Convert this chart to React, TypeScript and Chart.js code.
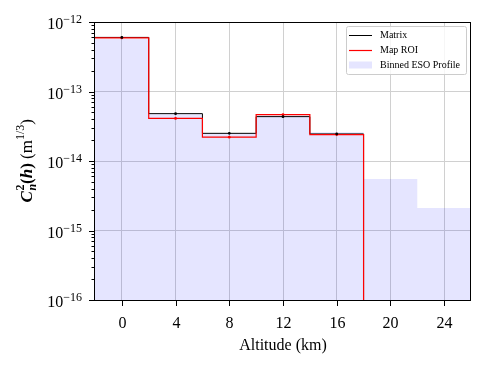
import { useEffect, useRef } from 'react';
import { Chart, registerables } from 'chart.js';

Chart.register(...registerables);

// Bin centres (km) and per-bin C_n^2 values (m^1/3)
const altitudes = [0, 4, 8, 12, 16, 20, 24];
const binHalfWidth = 2;
const matrixValues = [6.0e-13, 4.8e-14, 2.5e-14, 4.35e-14, 2.45e-14];
const mapRoiValues = [5.9e-13, 4.1e-14, 2.2e-14, 4.65e-14, 2.4e-14];
const esoValues = [5.7e-13, 4.7e-14, 2.5e-14, 4.5e-14, 2.6e-14, 5.5e-15, 2.1e-15];
// value the reconstructed profiles fall to above their last bin
const floorValue = 1e-17;

const xTicks = [0, 4, 8, 12, 16, 20, 24];
const yDecades = [-16, -15, -14, -13, -12];
const xMin = -2;
const xMax = 26;

const SERIF = '"Liberation Serif", "Times New Roman", serif';
const ESO_FILL = 'rgba(0, 0, 255, 0.1)';

function stepPoints(values: number[], tail?: number) {
  const pts = values.map((v, i) => ({ x: altitudes[i] - binHalfWidth, y: v }));
  const lastEdge = altitudes[values.length - 1] + binHalfWidth;
  pts.push({ x: lastEdge, y: tail ?? values[values.length - 1] });
  return pts;
}

function centrePoints(values: number[]) {
  return values.map((v, i) => ({ x: altitudes[i], y: v }));
}

type Run = { text: string; font: string; dy: number };

function drawYTitle(ctx: CanvasRenderingContext2D, baselineX: number, cy: number) {
  const big = `17px ${SERIF}`;
  const bigB = `bold 17px ${SERIF}`;
  const bigBI = `italic bold 17px ${SERIF}`;
  const small = `12px ${SERIF}`;
  const smallB = `bold 12px ${SERIF}`;
  const smallBI = `italic bold 12px ${SERIF}`;
  const segments: Run[][] = [
    [{ text: 'C', font: bigBI, dy: 0 }],
    [
      { text: '2', font: smallB, dy: -7.5 },
      { text: 'n', font: smallBI, dy: 4 },
    ],
    [{ text: '(', font: bigB, dy: 0 }],
    [{ text: 'h', font: bigBI, dy: 0 }],
    [{ text: ')', font: bigB, dy: 0 }],
    [{ text: ' (m', font: big, dy: 0 }],
    [{ text: '1/3', font: small, dy: -7.5 }],
    [{ text: ')', font: big, dy: 0 }],
  ];
  ctx.save();
  ctx.translate(baselineX, cy);
  ctx.rotate(-Math.PI / 2);
  ctx.fillStyle = '#000';
  ctx.textBaseline = 'alphabetic';
  ctx.textAlign = 'left';
  const widths = segments.map((seg) =>
    Math.max(
      ...seg.map((r) => {
        ctx.font = r.font;
        return ctx.measureText(r.text).width;
      })
    )
  );
  const total = widths.reduce((a, b) => a + b, 0);
  let x = -total / 2;
  segments.forEach((seg, i) => {
    seg.forEach((r) => {
      ctx.font = r.font;
      ctx.fillText(r.text, x, r.dy);
    });
    x += widths[i] + (i === 0 ? 0.5 : 0);
  });
  ctx.restore();
}

const decorPlugin = {
  id: 'decor',
  afterDraw(chart: any) {
    const { ctx, chartArea } = chart;
    const xs = chart.scales.x;
    const ys = chart.scales.y;
    const { left, right, top, bottom } = chartArea;
    ctx.save();

    // frame
    ctx.strokeStyle = '#000';
    ctx.lineWidth = 1;
    ctx.strokeRect(Math.round(left) - 0.5, Math.round(top) + 0.5, Math.round(right - left), Math.round(bottom - top));

    // x ticks and labels
    ctx.fillStyle = '#000';
    ctx.font = `16px ${SERIF}`;
    ctx.textAlign = 'center';
    ctx.textBaseline = 'alphabetic';
    xTicks.forEach((v) => {
      const px = Math.round(xs.getPixelForValue(v)) + 0.5;
      ctx.beginPath();
      ctx.moveTo(px, bottom);
      ctx.lineTo(px, bottom + 6);
      ctx.stroke();
      ctx.fillText(String(v), px, bottom + 27.5);
    });

    // y ticks: majors at decades, minors at 2..9
    yDecades.forEach((d) => {
      const py = Math.round(ys.getPixelForValue(Math.pow(10, d))) + 0.5;
      ctx.beginPath();
      ctx.moveTo(left - 6, py);
      ctx.lineTo(left, py);
      ctx.stroke();
      if (d < yDecades[yDecades.length - 1]) {
        for (let k = 2; k <= 9; k++) {
          const pm = Math.round(ys.getPixelForValue(k * Math.pow(10, d))) + 0.5;
          ctx.beginPath();
          ctx.moveTo(left - 3.5, pm);
          ctx.lineTo(left, pm);
          ctx.stroke();
        }
      }
      // label 10^d
      const exp = '\u2212' + String(Math.abs(d));
      ctx.textAlign = 'left';
      ctx.font = `12px ${SERIF}`;
      const expW = ctx.measureText(exp).width;
      ctx.font = `16px ${SERIF}`;
      const tenW = ctx.measureText('10').width;
      const rightEdge = left - 13;
      ctx.fillText('10', rightEdge - expW - tenW, py + 6);
      ctx.font = `12px ${SERIF}`;
      ctx.fillText(exp, rightEdge - expW, py + 0.5);
    });

    // axis titles
    ctx.font = `16px ${SERIF}`;
    ctx.textAlign = 'center';
    ctx.fillText('Altitude (km)', (left + right) / 2, bottom + 50);
    drawYTitle(ctx, 31.5, (top + bottom) / 2);

    // legend
    const bx = 346.5;
    const by = 26.5;
    const bw = 120;
    const bh = 48;
    ctx.beginPath();
    ctx.roundRect(bx, by, bw, bh, 2);
    ctx.fillStyle = 'rgba(255,255,255,0.8)';
    ctx.fill();
    ctx.strokeStyle = '#cccccc';
    ctx.lineWidth = 1;
    ctx.stroke();

    const rows = [
      { label: 'Matrix', kind: 'line', color: '#000000', width: 1 },
      { label: 'Map ROI', kind: 'line', color: '#ff0000', width: 1.2 },
      { label: 'Binned ESO Profile', kind: 'patch', color: ESO_FILL, width: 0 },
    ];
    ctx.font = `10px ${SERIF}`;
    ctx.textAlign = 'left';
    ctx.textBaseline = 'middle';
    rows.forEach((r, i) => {
      const cy = 35 + i * 15;
      if (r.kind === 'line') {
        ctx.strokeStyle = r.color;
        ctx.lineWidth = r.width;
        ctx.beginPath();
        ctx.moveTo(349, cy + 0.5);
        ctx.lineTo(372, cy + 0.5);
        ctx.stroke();
      } else {
        ctx.fillStyle = r.color;
        ctx.fillRect(349, cy - 3.5, 23, 7);
      }
      ctx.fillStyle = '#000';
      ctx.fillText(r.label, 380, cy + 0.5);
    });

    ctx.restore();
  },
};

export default function App() {
  const ref = useRef<HTMLCanvasElement | null>(null);

  useEffect(() => {
    if (!ref.current) return;
    const chart = new Chart(ref.current, {
      type: 'line',
      data: {
        datasets: [
          {
            label: 'Matrix points',
            data: centrePoints(matrixValues),
            showLine: false,
            pointRadius: 1.4,
            pointBackgroundColor: '#000',
            pointBorderWidth: 0,
            order: 0,
          },
          {
            label: 'Map ROI points',
            data: centrePoints(mapRoiValues),
            showLine: false,
            pointRadius: 1.4,
            pointBackgroundColor: '#ff0000',
            pointBorderWidth: 0,
            order: 1,
          },
          {
            label: 'Map ROI',
            data: stepPoints(mapRoiValues, floorValue),
            stepped: 'before',
            borderColor: '#ff0000',
            borderWidth: 1.2,
            pointRadius: 0,
            fill: false,
            order: 2,
          },
          {
            label: 'Matrix',
            data: stepPoints(matrixValues, floorValue),
            stepped: 'before',
            borderColor: '#000000',
            borderWidth: 1,
            pointRadius: 0,
            fill: false,
            order: 3,
          },
          {
            label: 'Binned ESO Profile',
            data: stepPoints(esoValues),
            stepped: 'before',
            borderWidth: 0,
            borderColor: 'rgba(0,0,0,0)',
            backgroundColor: ESO_FILL,
            pointRadius: 0,
            fill: 'start',
            order: 4,
          },
        ],
      },
      options: {
        animation: false,
        responsive: false,
        devicePixelRatio: 1,
        layout: { padding: { top: 22, right: 23, bottom: 0, left: 0 } },
        plugins: {
          legend: { display: false },
          tooltip: { enabled: false },
        },
        scales: {
          x: {
            type: 'linear',
            min: xMin,
            max: xMax,
            afterBuildTicks: (scale: any) => {
              scale.ticks = xTicks.map((v) => ({ value: v }));
            },
            afterFit: (scale: any) => {
              scale.height = 69;
            },
            ticks: { display: false },
            grid: { color: '#d0d0d0', lineWidth: 1, drawTicks: false },
            border: { display: false },
          },
          y: {
            type: 'logarithmic',
            min: 1e-16,
            max: 1e-12,
            afterBuildTicks: (scale: any) => {
              scale.ticks = yDecades.map((d) => ({ value: Math.pow(10, d), major: true }));
            },
            afterFit: (scale: any) => {
              scale.width = 95;
            },
            ticks: { display: false },
            grid: { color: '#d0d0d0', lineWidth: 1, drawTicks: false },
            border: { display: false },
          },
        },
      },
      plugins: [decorPlugin],
    } as any);
    return () => chart.destroy();
  }, []);

  return (
    <div style={{ position: 'absolute', left: 0, top: 0, width: 494, height: 369, background: '#fff' }}>
      <canvas ref={ref} width={494} height={369} style={{ width: 494, height: 369 }} />
    </div>
  );
}
